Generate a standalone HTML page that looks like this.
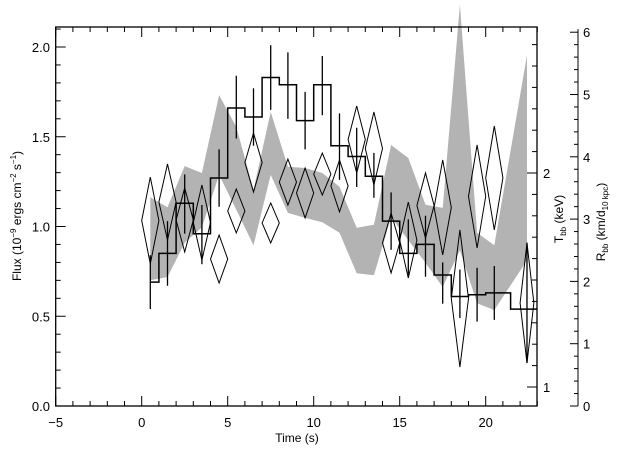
<!DOCTYPE html>
<html><head><meta charset="utf-8">
<style>
html,body{margin:0;padding:0;background:#fff;}
svg{display:block;font-family:"Liberation Sans",sans-serif;}
</style></head>
<body>
<svg id="chart" width="640" height="457" viewBox="0 0 640 457" xmlns="http://www.w3.org/2000/svg">
<rect x="0" y="0" width="640" height="457" fill="#fff"/>
<g id="band"></g>
<g id="hist"></g>
<g id="diam"></g>
<g id="axes"></g>
<text x="297" y="442" font-size="12" text-anchor="middle">Time (s)</text>
<text transform="translate(21,216) rotate(-90)" font-size="12" text-anchor="middle">Flux (10<tspan font-size="8" dy="-5">−9</tspan><tspan dy="5"> ergs cm</tspan><tspan font-size="8" dy="-5">−2</tspan><tspan dy="5"> s</tspan><tspan font-size="8" dy="-5">−1</tspan><tspan dy="5">)</tspan></text>
<text transform="translate(563,219) rotate(-90)" font-size="12" text-anchor="middle">T<tspan font-size="8" dy="3">bb</tspan><tspan dy="-3">  (keV)</tspan></text>
<text transform="translate(605,222) rotate(-90)" font-size="12" text-anchor="middle">R<tspan font-size="8" dy="3">bb</tspan><tspan dy="-3">  (km/d</tspan><tspan font-size="8" dy="3">10 kpc</tspan><tspan dy="-3">)</tspan></text>
</svg>
<script>
const times = [0.5,1.5,2.5,3.5,4.5,5.5,6.5,7.5,8.5,9.5,10.5,11.5,12.5,13.5,14.5,15.5,16.5,17.5,18.5,19.5,20.5,22.4];
const flux = [0.69,0.85,1.13,0.96,1.27,1.66,1.61,1.83,1.79,1.59,1.79,1.45,1.39,1.28,1.03,0.85,0.90,0.73,0.61,0.62,0.63,0.54];
const fluxHi = [0.84,1.03,1.29,1.12,1.43,1.84,1.77,2.01,1.97,1.75,1.95,1.63,1.55,1.41,1.19,1.04,1.06,0.80,0.76,0.77,0.78,0.91];
const fluxLo = [0.54,0.67,0.96,0.79,1.11,1.49,1.45,1.65,1.60,1.43,1.62,1.26,1.22,1.16,0.87,0.72,0.72,0.57,0.49,0.47,0.48,0.24];
const tempHi = [1.981,2.042,1.930,1.944,1.710,1.925,2.187,1.860,2.065,2.023,2.093,2.061,2.313,2.285,1.813,1.864,2.0,2.061,1.734,2.131,2.220,1.673];
const tempLo = [1.575,1.687,1.631,1.593,1.486,1.720,1.911,1.673,1.850,1.790,1.897,1.818,2.0,1.944,1.533,1.509,1.696,1.617,1.093,1.650,1.734,1.112];
const radHi = [3.35,3.19,3.85,3.74,4.99,4.48,3.47,4.72,3.84,3.82,3.74,3.52,2.86,2.91,4.19,3.98,3.23,3.18,6.44,2.78,2.58,5.63];
const radLo = [2.02,2.07,2.62,2.87,3.71,3.15,2.58,3.71,3.10,3.02,2.95,2.78,2.13,2.10,3.03,2.66,2.30,1.91,2.50,1.65,1.54,2.34];
const xTicks = [-5,0,5,10,15,20];
const fluxTicks = ["0.0","0.5","1.0","1.5","2.0"];
const tempTicks = [1,2];
const radTicks = [0,1,2,3,4,5,6];

(function(){
const L=55.7,R=537,T=27,B=406;
const xs=t=>141.7+(t)*17.2;
const yf=f=>406-f*179.5;
const yt=v=>173-(v-2)*214;
const yr=v=>406-v*62.3;
const NS='http://www.w3.org/2000/svg';
function mk(tag,attrs,parent){const e=document.createElementNS(NS,tag);for(const k in attrs)e.setAttribute(k,attrs[k]);parent.appendChild(e);return e;}
const gBand=document.getElementById('band'),gHist=document.getElementById('hist'),gD=document.getElementById('diam'),gA=document.getElementById('axes');

let upperPts=[],lowerPts=[];
for(let i=0;i<times.length;i++){upperPts.push(xs(times[i]).toFixed(1)+','+yr(radHi[i]).toFixed(1));lowerPts.unshift(xs(times[i]).toFixed(1)+','+yr(radLo[i]).toFixed(1));}
const band=mk('polygon',{points:upperPts.concat(lowerPts).join(' '),fill:'#b3b3b3',stroke:'none'},gBand);



let d='';
for(let i=0;i<times.length;i++){
  const a=i===0?times[0]:(times[i-1]+times[i])/2;
  const b=i===times.length-1?Math.min(23,times[i]+(times[i]-times[i-1])/2):(times[i]+times[i+1])/2;
  const y=yf(flux[i]).toFixed(1);
  d+=(i===0?'M':'L')+xs(a).toFixed(1)+','+y+' L'+xs(b).toFixed(1)+','+y+' ';
}
const hp=mk('path',{d:d,fill:'none',stroke:'#000','stroke-width':1.5},gHist);


for(let i=0;i<times.length;i++){
  const x=xs(times[i]);
  const eb=mk('line',{x1:x,x2:x,y1:yf(fluxHi[i]),y2:yf(fluxLo[i]),stroke:'#000','stroke-width':1.3},gHist);
  
  
}
for(let i=0;i<times.length;i++){
  const x=xs(times[i]),y1=yt(tempHi[i]),y2=yt(tempLo[i]),ym=(y1+y2)/2,w=0.5*17.2*(i===times.length-1?0.8:1);
  const p=mk('polygon',{points:x+','+y1+' '+(x+w)+','+ym+' '+x+','+y2+' '+(x-w)+','+ym,fill:'none',stroke:'#000','stroke-width':1},gD);
  
  
}
const fr=mk('rect',{x:L,y:T,width:R-L,height:B-T,fill:'none',stroke:'#000','stroke-width':1.3},gA);


function tick(x1,y1,x2,y2,name){const l=mk('line',{x1:x1,y1:y1,x2:x2,y2:y2,stroke:'#000','stroke-width':1},gA);}
function label(x,y,s,anchor,name){const t=mk('text',{x:x,y:y,'font-size':13,'text-anchor':anchor},gA);t.textContent=s;}
for(let t=-5;t<=23;t++){const x=xs(t),len=(t%5===0)?10:5;tick(x,B,x,B-len,'x-tick');tick(x,T,x,T+len,'x-tick-top');}
xTicks.forEach(v=>label(xs(v),427,v<0?'−'+Math.abs(v):String(v),'middle','x-tick-label'));
for(let k=0;k<=21;k++){const v=k/10,y=yf(v),len=(k%5===0)?10:5;tick(L,y,L+len,y,'y-tick');}
fluxTicks.forEach(s=>label(50,yf(parseFloat(s))+5,s,'end','y-tick-label'));
for(let k=9;k<=26;k++){const v=k/10,y=yt(v);if(y<T||y>B)continue;const len=(k%10===0)?10:5;tick(R,y,R-len,y,'temperature-tick');}
tempTicks.forEach(v=>label(543,yt(v)+5,String(v),'start','temperature-tick-label'));
const RX=578;
tick(RX,B,RX,yr(6.05),'radius-axis-line');
for(let k=0;k<=30;k++){const v=k/5,y=yr(v),len=(k%5===0)?8:4;tick(RX,y,RX-len,y,'radius-tick');}
radTicks.forEach(v=>label(583,yr(v)+5,String(v),'start','radius-tick-label'));
})();
</script>
</body></html>
